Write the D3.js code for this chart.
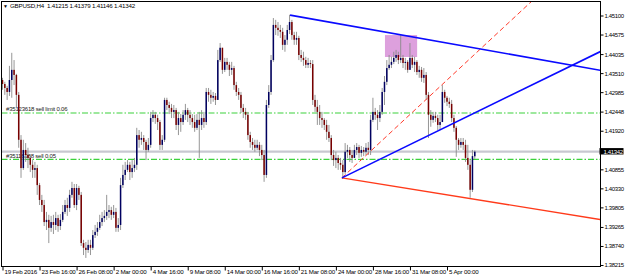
<!DOCTYPE html>
<html><head><meta charset="utf-8">
<script src="https://cdn.jsdelivr.net/npm/d3@7"></script>
<style>html,body{margin:0;padding:0;background:#fff;} svg{display:block;font-family:"Liberation Sans",Arial,sans-serif;}</style>
</head><body><svg id="c" width="625" height="279"></svg>
<script>
const symbolTitle = "GBPUSD,H4";
const lastOHLC = [1.41215, 1.41379, 1.41146, 1.41342];
const firstOpen = 1.4332;
const closes = [1.4321,1.4310,1.4299,1.4332,1.4360,1.4346,1.4291,1.4167,1.4089,1.4139,
1.4125,1.4117,1.4098,1.4084,1.4089,1.4042,1.4001,1.3987,1.3940,1.3946,
1.3924,1.3940,1.3932,1.3951,1.3929,1.3946,1.3968,1.3987,1.3979,1.4015,
1.4034,1.3987,1.4034,1.4015,1.3882,1.3869,1.3863,1.3877,1.3869,1.3904,
1.3913,1.3924,1.3940,1.3951,1.3957,1.3968,1.3973,1.3960,1.3968,1.3924,
1.3932,1.4042,1.4070,1.4084,1.4098,1.4078,1.4089,1.4098,1.4180,1.4167,
1.4172,1.4161,1.4139,1.4153,1.4227,1.4236,1.4227,1.4216,1.4153,1.4167,
1.4277,1.4263,1.4255,1.4244,1.4249,1.4208,1.4227,1.4216,1.4236,1.4249,
1.4236,1.4227,1.4216,1.4200,1.4222,1.4208,1.4227,1.4216,1.4299,1.4291,
1.4283,1.4288,1.4277,1.4387,1.4421,1.4360,1.4382,1.4374,1.4360,1.4365,
1.4318,1.4299,1.4291,1.4255,1.4244,1.4236,1.4180,1.4161,1.4153,1.4145,
1.4153,1.4139,1.4125,1.4070,1.4263,1.4299,1.4387,1.4484,1.4476,1.4470,
1.4465,1.4429,1.4443,1.4470,1.4492,1.4456,1.4443,1.4448,1.4401,1.4393,
1.4387,1.4374,1.4379,1.4376,1.4277,1.4258,1.4244,1.4227,1.4222,1.4208,
1.4189,1.4172,1.4125,1.4111,1.4117,1.4103,1.4098,1.4078,1.4134,1.4139,
1.4125,1.4117,1.4139,1.4147,1.4131,1.4139,1.4134,1.4145,1.4139,1.4222,
1.4244,1.4236,1.4227,1.4244,1.4299,1.4327,1.4365,1.4374,1.4382,1.4393,
1.4401,1.4387,1.4393,1.4379,1.4382,1.4360,1.4393,1.4374,1.4382,1.4354,
1.4360,1.4338,1.4346,1.4291,1.4236,1.4222,1.4233,1.4227,1.4208,1.4216,
1.4299,1.4283,1.4272,1.4266,1.4227,1.4200,1.4167,1.4153,1.4161,1.4153,
1.4117,1.4098,1.4029,1.4122,1.41342];
const highs = [1.4338,1.4327,1.4316,1.4371,1.4407,1.4387,1.4349,1.4299,1.4180,1.4167,
1.4158,1.4145,1.4125,1.4111,1.4106,1.4098,1.4048,1.4015,1.4001,1.3968,
1.3960,1.3957,1.3960,1.3968,1.3960,1.3962,1.3987,1.4001,1.4007,1.4029,
1.4051,1.4045,1.4045,1.4040,1.4023,1.3891,1.3885,1.3891,1.3891,1.3918,
1.3932,1.3940,1.3960,1.3968,1.3973,1.4015,1.3987,1.3982,1.3987,1.3979,
1.3951,1.4062,1.4098,1.4106,1.4111,1.4106,1.4111,1.4117,1.4200,1.4194,
1.4189,1.4180,1.4167,1.4172,1.4244,1.4249,1.4244,1.4236,1.4222,1.4180,
1.4283,1.4283,1.4272,1.4266,1.4263,1.4255,1.4244,1.4238,1.4249,1.4266,
1.4255,1.4249,1.4238,1.4236,1.4238,1.4244,1.4249,1.4244,1.4310,1.4310,
1.4305,1.4299,1.4296,1.4415,1.4434,1.4401,1.4393,1.4393,1.4382,1.4382,
1.4371,1.4327,1.4310,1.4299,1.4266,1.4255,1.4244,1.4189,1.4172,1.4167,
1.4167,1.4161,1.4153,1.4139,1.4277,1.4318,1.4401,1.4503,1.4498,1.4492,
1.4484,1.4476,1.4456,1.4484,1.4512,1.4498,1.4465,1.4465,1.4454,1.4415,
1.4410,1.4396,1.4393,1.4387,1.4387,1.4291,1.4277,1.4263,1.4244,1.4227,
1.4222,1.4208,1.4180,1.4139,1.4134,1.4125,1.4117,1.4111,1.4158,1.4153,
1.4147,1.4139,1.4153,1.4158,1.4153,1.4150,1.4147,1.4158,1.4161,1.4236,
1.4283,1.4255,1.4249,1.4263,1.4310,1.4343,1.4387,1.4401,1.4396,1.4410,
1.4415,1.4410,1.4456,1.4401,1.4393,1.4387,1.4434,1.4401,1.4396,1.4387,
1.4371,1.4368,1.4365,1.4354,1.4299,1.4249,1.4244,1.4244,1.4236,1.4236,
1.4318,1.4305,1.4288,1.4283,1.4277,1.4236,1.4205,1.4172,1.4172,1.4172,
1.4167,1.4153,1.4111,1.4139,1.41379];
const lows = [1.4305,1.4291,1.4277,1.4288,1.4283,1.4318,1.4255,1.4145,1.4062,1.4084,
1.4106,1.4089,1.4078,1.4062,1.4062,1.4015,1.3987,1.3968,1.3929,1.3918,
1.3882,1.3913,1.3907,1.3918,1.3913,1.3918,1.3940,1.3962,1.3957,1.3968,
1.4007,1.3979,1.3973,1.4001,1.3874,1.3849,1.3841,1.3855,1.3849,1.3863,
1.3896,1.3902,1.3918,1.3929,1.3940,1.3946,1.3951,1.3946,1.3951,1.3913,
1.3913,1.3918,1.4034,1.4056,1.4078,1.4056,1.4062,1.4078,1.4084,1.4145,
1.4153,1.4139,1.4111,1.4134,1.4145,1.4216,1.4211,1.4194,1.4139,1.4139,
1.4161,1.4249,1.4238,1.4227,1.4227,1.4194,1.4180,1.4189,1.4208,1.4222,
1.4216,1.4208,1.4200,1.4189,1.4194,1.4117,1.4194,1.4200,1.4208,1.4272,
1.4266,1.4272,1.4263,1.4277,1.4382,1.4349,1.4354,1.4360,1.4343,1.4346,
1.4305,1.4288,1.4277,1.4241,1.4227,1.4222,1.4167,1.4145,1.4139,1.4134,
1.4139,1.4122,1.4111,1.4051,1.4062,1.4255,1.4291,1.4382,1.4456,1.4454,
1.4448,1.4415,1.4410,1.4429,1.4459,1.4443,1.4429,1.4429,1.4387,1.4382,
1.4371,1.4365,1.4365,1.4365,1.4263,1.4244,1.4208,1.4208,1.4200,1.4194,
1.4167,1.4161,1.4111,1.4095,1.4089,1.4084,1.4084,1.4059,1.4073,1.4117,
1.4106,1.4103,1.4117,1.4125,1.4117,1.4120,1.4122,1.4125,1.4125,1.4125,
1.4216,1.4222,1.4194,1.4216,1.4236,1.4263,1.4318,1.4360,1.4365,1.4376,
1.4382,1.4376,1.4379,1.4365,1.4360,1.4352,1.4360,1.4365,1.4354,1.4346,
1.4338,1.4327,1.4324,1.4277,1.4172,1.4203,1.4214,1.4216,1.4194,1.4194,
1.4216,1.4269,1.4260,1.4255,1.4216,1.4189,1.4120,1.4139,1.4145,1.4139,
1.4106,1.4084,1.4007,1.4023,1.41146];

const timeLabels = ["19 Feb 2016","23 Feb 16:00","26 Feb 08:00","2 Mar 00:00","4 Mar 16:00","9 Mar 08:00","14 Mar 00:00","16 Mar 16:00","21 Mar 08:00","24 Mar 00:00","28 Mar 16:00","31 Mar 08:00","5 Apr 00:00"];
const timeLabelBars = [0,16,32,48,64,80,96,112,128,144,160,176,192];
const priceTicks = [1.45100,1.44575,1.44035,1.43510,1.42985,1.42448,1.41920,1.40855,1.40330,1.39805,1.39265,1.38740,1.38215];
const orderLabels = ["#35123618 sell limit 0.06", "#35116288 sell 0.05"];
const orderPrices = [1.4241, 1.4113];
// trend lines: [bar, price] start and a second point; extended to the right
const blueLine1 = [[124.2, 1.4511], [258.1, 1.4359]];
const blueLine2 = [[146.6, 1.4062], [258.1, 1.4410]];
const redLine = [[146.6, 1.4062], [258.1, 1.3947]];
const redDashLine = [[146.6, 1.4062], [228.7, 1.4550]];
const rectBars = [165.2, 179.1];
const rectPrices = [1.4456, 1.43955];

const svg = d3.select("#c");
const W = 625, H = 279;
const L = 1.5, R = 600.5, T = 1.5, B = 266.5;
svg.append("rect").attr("width", W).attr("height", H).attr("fill", "#fff");

const x = d3.scaleLinear().domain([0, 192]).range([2.5, 447]);
const y = d3.scaleLinear().domain([1.38215, 1.45100]).range([265, 15.5]);

svg.append("defs").append("clipPath").attr("id", "clip")
  .append("rect").attr("x", L + 0.5).attr("y", T + 0.5).attr("width", R - L - 1).attr("height", B - T - 1);
const plot = svg.append("g").attr("clip-path", "url(#clip)");

// rectangle object (background)
plot.append("rect")
  .attr("x", x(rectBars[0])).attr("y", y(rectPrices[0]))
  .attr("width", x(rectBars[1]) - x(rectBars[0])).attr("height", y(rectPrices[1]) - y(rectPrices[0]))
  .attr("fill", "#dda0dd");

// bid line
plot.append("line").attr("x1", L).attr("x2", R).attr("y1", y(lastOHLC[3])).attr("y2", y(lastOHLC[3]))
  .attr("stroke", "#c8c8d0").attr("stroke-width", 2.2);

// order lines + labels
orderPrices.forEach((p, k) => {
  plot.append("line").attr("x1", L).attr("x2", R).attr("y1", y(p)).attr("y2", y(p))
    .attr("stroke", "#3cd23c").attr("stroke-width", 1.2).attr("stroke-dasharray", "6,2,1.5,2");
  plot.append("text").attr("x", 6).attr("y", y(p) - 1.6).text(orderLabels[k])
    .attr("font-size", 6).attr("letter-spacing", -0.2).attr("fill", "#222");
});

// candles
const bars = closes.map((c, i) => {
  const o = i === 0 ? firstOpen : closes[i - 1];
  return { i, o, c, h: Math.max(highs[i], o, c), l: Math.min(lows[i], o, c) };
});
bars[bars.length - 1].o = lastOHLC[0];
const bw = 1.5;
const cg = plot.append("g");
cg.selectAll("line.w").data(bars).join("line").attr("class", "w")
  .attr("x1", d => x(d.i)).attr("x2", d => x(d.i))
  .attr("y1", d => y(d.h)).attr("y2", d => y(d.l))
  .attr("stroke", "#8a8a8a").attr("stroke-width", 0.9);
cg.selectAll("rect.b").data(bars).join("rect").attr("class", "b")
  .attr("x", d => x(d.i) - bw / 2).attr("width", bw)
  .attr("y", d => y(Math.max(d.o, d.c)))
  .attr("height", d => Math.max(0.8, Math.abs(y(d.o) - y(d.c))))
  .attr("fill", d => d.c >= d.o ? "#000060" : "#780000");

// trend lines
function ray(pts, color, width, dash) {
  const [[b1, p1], [b2, p2]] = pts;
  const bEnd = x.invert(R + 5);
  const pEnd = p1 + (p2 - p1) * (bEnd - b1) / (b2 - b1);
  const ln = plot.append("line")
    .attr("x1", x(b1)).attr("y1", y(p1)).attr("x2", x(bEnd)).attr("y2", y(pEnd))
    .attr("stroke", color).attr("stroke-width", width);
  if (dash) ln.attr("stroke-dasharray", dash);
}
ray(redDashLine, "#ff3a2a", 1, "5,3");
ray(redLine, "#ff3a1a", 1.4);
ray(blueLine2, "#0a0aff", 1.6);
ray(blueLine1, "#0a0aff", 1.6);

// frame
svg.append("rect").attr("x", L).attr("y", T).attr("width", R - L).attr("height", B - T)
  .attr("fill", "none").attr("stroke", "#000").attr("stroke-width", 1);

// price axis
const ya = svg.append("g").attr("transform", `translate(${R},0)`)
  .call(d3.axisRight(y).tickValues(priceTicks).tickFormat(d3.format(".5f")).tickSize(3).tickPadding(1));
ya.select(".domain").remove();
ya.selectAll("line").attr("stroke", "#000");
ya.selectAll("text").attr("font-size", 6).attr("letter-spacing", -0.35).attr("fill", "#000")
  .attr("font-family", "Liberation Sans, Arial, sans-serif");

// current price box
const cy = y(lastOHLC[3]);
svg.append("rect").attr("x", R - 1).attr("y", cy - 3.6).attr("width", 24).attr("height", 6.4).attr("fill", "#000");
svg.append("text").attr("x", R + 3).attr("y", cy + 2.1).text(d3.format(".5f")(lastOHLC[3]))
  .attr("font-size", 6).attr("letter-spacing", -0.35).attr("fill", "#fff");

// time axis
const xa = svg.append("g").attr("transform", `translate(0,${B})`)
  .call(d3.axisBottom(x).tickValues(timeLabelBars).tickFormat((d, i) => timeLabels[i]).tickSize(4).tickPadding(1));
xa.select(".domain").remove();
xa.selectAll("line").attr("stroke", "#000");
xa.selectAll("text").attr("text-anchor", "start").attr("dx", 1.5).attr("dy", "0.35em")
  .attr("font-size", 6.2).attr("letter-spacing", -0.2).attr("fill", "#000")
  .attr("font-family", "Liberation Sans, Arial, sans-serif");

// title
svg.append("text").attr("x", 3).attr("y", 8).text("▼").attr("font-size", 5).attr("fill", "#000");
svg.append("text").attr("x", 10).attr("y", 8)
  .text(symbolTitle + "  " + lastOHLC.map(d3.format(".5f")).join(" "))
  .attr("font-size", 6.2).attr("letter-spacing", -0.2).attr("fill", "#000").attr("xml:space", "preserve");
</script></body></html>
